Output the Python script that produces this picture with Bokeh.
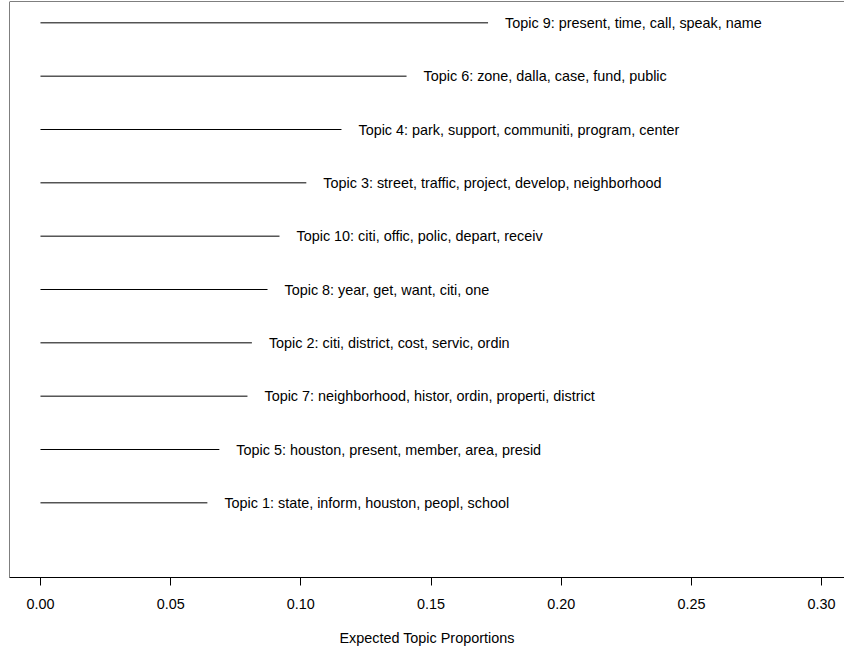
from bokeh.plotting import figure
from bokeh.models import ColumnDataSource, FixedTicker, PrintfTickFormatter, Span
from bokeh.core.properties import value
from bokeh.embed import file_html
from bokeh.resources import INLINE

# Expected topic proportions, listed from the bottom row to the top row
topic_labels = [
    "Topic 1: state, inform, houston, peopl, school",
    "Topic 5: houston, present, member, area, presid",
    "Topic 7: neighborhood, histor, ordin, properti, district",
    "Topic 2: citi, district, cost, servic, ordin",
    "Topic 8: year, get, want, citi, one",
    "Topic 10: citi, offic, polic, depart, receiv",
    "Topic 3: street, traffic, project, develop, neighborhood",
    "Topic 4: park, support, communiti, program, center",
    "Topic 6: zone, dalla, case, fund, public",
    "Topic 9: present, time, call, speak, name",
]
proportions = [0.0641, 0.0687, 0.0795, 0.0812, 0.0872, 0.0918, 0.1021, 0.1156, 0.1406, 0.1719]
x_ticks = [0.00, 0.05, 0.10, 0.15, 0.20, 0.25, 0.30]

FONT = "Liberation Sans"
FSIZE = "14.4px"

rows = list(range(1, len(proportions) + 1))
src = ColumnDataSource(dict(
    x0=[0.0] * len(proportions),
    x1=proportions,
    y=rows,
    label=topic_labels,
))

x_start, x_end = -0.0119, 0.3088
y_start, y_end = -0.4, 10.4

p = figure(
    width=844, height=650,
    x_range=(x_start, x_end), y_range=(y_start, y_end),
    output_backend="svg", toolbar_location=None,
    min_border_left=9, min_border_right=0, min_border_top=1, min_border_bottom=73,
)
p.outline_line_color = None
p.background_fill_color = "white"
p.border_fill_color = "white"
p.grid.visible = False
p.yaxis.visible = False

# box edges (left and top); the x axis line forms the bottom edge
p.add_layout(Span(location=x_start, dimension="height", line_color="black", line_width=1))
p.add_layout(Span(location=y_end, dimension="width", line_color="black", line_width=1))

p.segment(x0="x0", y0="y", x1="x1", y1="y", source=src, line_color="black", line_width=1)
p.text(x="x1", y="y", text="label", source=src, x_offset=17,
       text_font=value(FONT), text_font_size=FSIZE,
       text_baseline="middle", text_align="left", text_color="black")

ax = p.xaxis[0]
ax.ticker = FixedTicker(ticks=x_ticks)
ax.formatter = PrintfTickFormatter(format="%.2f")
ax.minor_tick_line_color = None
ax.major_tick_in = 0
ax.major_tick_out = 8
ax.axis_line_color = "black"
ax.major_tick_line_color = "black"
ax.major_label_text_font = FONT
ax.major_label_text_font_size = FSIZE
ax.major_label_text_color = "black"
ax.major_label_standoff = 13
ax.axis_label = "Expected Topic Proportions"
ax.axis_label_text_font = FONT
ax.axis_label_text_font_size = FSIZE
ax.axis_label_text_font_style = "normal"
ax.axis_label_text_color = "black"
ax.axis_label_standoff = 18

open("out.html", "w").write(file_html(p, INLINE))
